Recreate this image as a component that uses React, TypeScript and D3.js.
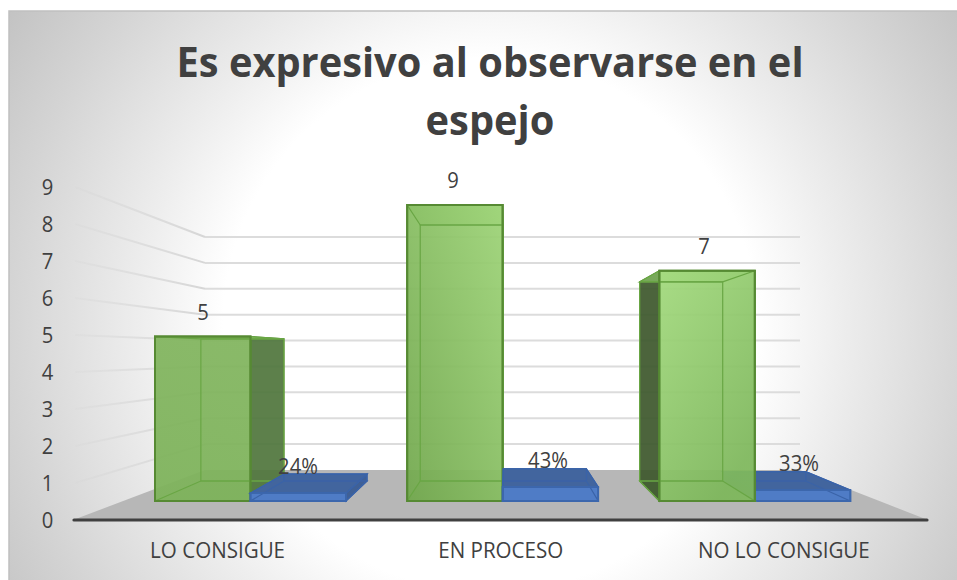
import React from "react";
import * as d3 from "d3";

const titleLines = ["Es expresivo al observarse en el", "espejo"];
const categories = ["LO CONSIGUE", "EN PROCESO", "NO LO CONSIGUE"];
const counts = [5, 9, 7];
const shares = [0.24, 0.43, 0.33];
const shareLabels = ["24%", "43%", "33%"];
const yTicks = [0, 1, 2, 3, 4, 5, 6, 7, 8, 9];

const W = 957, H = 580;
const FONT = "'Open Sans', sans-serif";
const INK = "#404040";

// perspective planes
const yAxisFront = d3.scaleLinear().domain([0, 9]).range([520, 187]);
const yWall = d3.scaleLinear().domain([0, 9]).range([470, 237]);
const yBarFront = d3.scaleLinear().domain([0, 9]).range([501, 205]);
const yBarBack = d3.scaleLinear().domain([0, 9]).range([481, 225]);
const xBand = d3.scaleBand<string>().domain(categories).range([76, 925.5]);
const barX0 = (c: string) => xBand(c)! + 79;
const BAR_W = 95.5;
const toBack = d3.scaleLinear().domain([0, 1000]).range([66, 936]);

const greenStops: [string, string][] = [["#82b55f", "#7eb35b"], ["#9ed478", "#72a84e"], ["#a3da7e", "#7fb85d"]];
const greenDirs = [[0, 0, 0, 1], [1, 0, 0, 1], [0, 0, 0.6, 1]];

type P = [number, number];
const poly = (pts: P[]) => d3.line()(pts)! + "Z";

function Label({ x, y, size, sx = 1, weight = 400, children }: any) {
  return (
    <text transform={`translate(${x},${y}) scale(${sx},1)`} textAnchor="middle" fontFamily={FONT} fontSize={size} fontWeight={weight} fill={INK}>{children}</text>
  );
}

function Box({ x0, v, kind, idx }: { x0: number; v: number; kind: "g" | "b"; idx: number }) {
  const x1 = x0 + BAR_W;
  const bx0 = toBack(x0), bx1 = toBack(x1);
  const fb = yBarFront(0), ft = yBarFront(v), bb = yBarBack(0), bt = yBarBack(v);
  const g = kind === "g";
  const stroke = g ? "#568a33" : "#3c67ad";
  const inner = g ? "#69a644" : "#3a63a8";
  const sw = g ? 2 : 1.8;
  const isw = g ? 1.2 : 1.2;
  const darkLeft = bx0 < x0, darkRight = bx1 > x1 + 1;
  const interior = g ? "rgba(112,173,71,0.14)" : "rgba(50,85,150,0.5)";
  const dark = g ? (darkLeft ? "rgba(62,88,46,0.92)" : "rgba(80,118,62,0.92)") : "#3f6096";
  const leftFace = poly([[x0, ft], [bx0, bt], [bx0, bb], [x0, fb]]);
  const rightFace = poly([[x1, ft], [bx1, bt], [bx1, bb], [x1, fb]]);
  const backFace = poly([[bx0, bt], [bx1, bt], [bx1, bb], [bx0, bb]]);
  const floor = poly([[x0, fb], [x1, fb], [bx1, bb], [bx0, bb]]);
  const top = poly([[x0, ft], [x1, ft], [bx1, bt], [bx0, bt]]);
  return (
    <g>
      <path d={backFace} fill={interior} />
      <path d={floor} fill={g ? "rgba(90,145,55,0.3)" : "#45679f"} />
      <path d={leftFace} fill={darkLeft ? dark : interior} stroke={darkLeft ? stroke : "none"} strokeWidth={isw} />
      <path d={rightFace} fill={darkRight ? dark : interior} stroke={darkRight ? stroke : "none"} strokeWidth={isw} />
      <path d={top} fill={g ? "rgba(150,215,110,0.6)" : "#42659e"} stroke={g ? "none" : stroke} strokeWidth={isw} />
      <path d={poly([[x0, ft], [x1, ft], [x1, fb], [x0, fb]])} fill={g ? `url(#greenFront${idx})` : "#4f7cc6"} fillOpacity={g ? 0.93 : 1} stroke={stroke} strokeWidth={sw} />
      {/* edges seen through the translucent front */}
      <path d={backFace} fill="none" stroke={inner} strokeWidth={isw} />
      <path d={floor} fill="none" stroke={inner} strokeWidth={isw} />
      <path d={top} fill="none" stroke={inner} strokeWidth={isw} />
      <path d={poly([[x0, ft], [x1, ft], [x1, fb], [x0, fb]])} fill="none" stroke={stroke} strokeWidth={sw} />
    </g>
  );
}

export default function App() {
  return (
    <svg width={W} height={H} viewBox={`0 0 ${W} ${H}`} style={{ position: "absolute", left: 0, top: 0, display: "block" }}>
      <defs>
        <radialGradient id="bg" gradientUnits="userSpaceOnUse" cx={490} cy={325} r={580}>
          <stop offset="0.46" stopColor="#ffffff" />
          <stop offset="0.6" stopColor="#eeeeee" />
          <stop offset="0.83" stopColor="#d4d4d4" />
          <stop offset="1" stopColor="#c2c2c2" />
        </radialGradient>
        {greenStops.map((s, i) => (
          <linearGradient key={i} id={`greenFront${i}`} x1={greenDirs[i][0]} y1={greenDirs[i][1]} x2={greenDirs[i][2]} y2={greenDirs[i][3]}>
            <stop offset="0" stopColor={s[0]} />
            <stop offset="1" stopColor={s[1]} />
          </linearGradient>
        ))}
        <linearGradient id="wallFade" gradientUnits="userSpaceOnUse" x1={70} y1={0} x2={205} y2={0}>
          <stop offset="0" stopColor="#d2d2d2" stopOpacity={0.15} />
          <stop offset="1" stopColor="#d6d6d6" />
        </linearGradient>
      </defs>
      <rect x={0} y={0} width={W} height={H} fill="#ffffff" />
      <rect x={9} y={11} width={W} height={H} fill="url(#bg)" stroke="#c0c0c0" strokeWidth={1.5} />

      {titleLines.map((t, i) => (
        <Label key={t} x={490} y={77 + i * 58} size={42} sx={0.948} weight={700}>{t}</Label>
      ))}

      {/* floor */}
      <path d={poly([[73, 520], [205, yWall(0)], [800, yWall(0)], [928, 520]])} fill="#b7b7b7" />

      {/* gridlines */}
      {yTicks.filter(v => v > 0).map(v => (
        <g key={v}>
          <line x1={75} y1={yAxisFront(v)} x2={205} y2={yWall(v)} stroke="url(#wallFade)" strokeWidth={2} />
          <line x1={205} x2={800} y1={yWall(v)} y2={yWall(v)} stroke="#dcdcdc" strokeWidth={2} />
        </g>
      ))}

      {/* bars */}
      {categories.map((c, i) => {
        const x0 = barX0(c) + [0, -31, -62][i];
        const x1 = x0 + BAR_W;
        const green = <Box key="g" x0={x0} v={counts[i]} kind="g" idx={i} />;
        const blue = <Box key="b" x0={x1} v={shares[i]} kind="b" idx={i} />;
        return <g key={c}>{toBack(x1) >= x1 ? [green, blue] : [blue, green]}</g>;
      })}

      {/* axis */}
      <line x1={74} x2={927} y1={520} y2={520} stroke={INK} strokeWidth={3.2} strokeLinecap="round" />

      {/* y tick labels */}
      {yTicks.map(v => (
        <Label key={v} x={47.5} y={yAxisFront(v) + 8} size={22} sx={0.92}>{v}</Label>
      ))}

      {/* category labels */}
      {categories.map(c => (
        <Label key={c} x={xBand(c)! + xBand.bandwidth() / 2} y={558} size={21} sx={0.98}>{c}</Label>
      ))}

      {/* data labels */}
      {counts.map((v, i) => (
        <Label key={i} x={[203, 453, 704][i]} y={yBarFront(v) - 17} size={22} sx={0.92}>{v}</Label>
      ))}
      {shareLabels.map((s, i) => (
        <Label key={s} x={[298, 548, 799][i]} y={yBarBack(shares[i]) - 0.5} size={22} sx={0.92}>{s}</Label>
      ))}
    </svg>
  );
}
